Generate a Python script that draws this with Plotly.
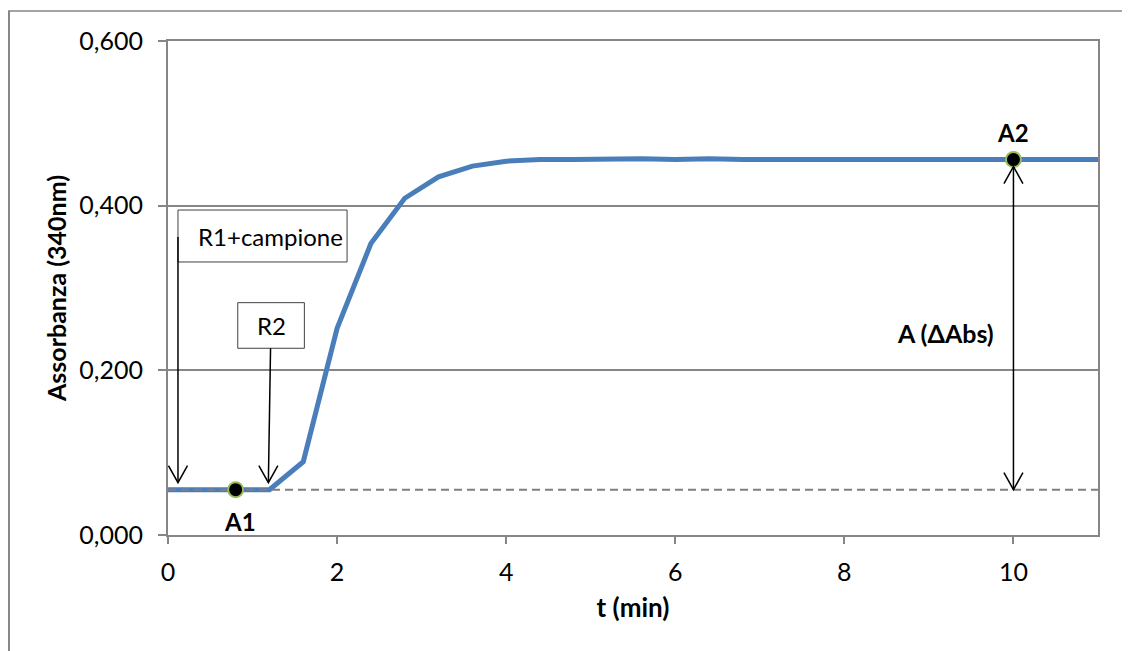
import plotly.graph_objects as go

# ---- data ----
t_min = [0.0, 0.4, 0.8, 1.2, 1.6, 2.0, 2.4, 2.8, 3.2, 3.6, 4.0, 4.4, 4.8, 5.2, 5.6,
         6.0, 6.4, 6.8, 7.2, 7.6, 8.0, 8.4, 8.8, 9.2, 9.6, 10.0, 10.4, 10.8, 11.0]
absorbance = [0.055, 0.055, 0.055, 0.055, 0.089, 0.251, 0.354, 0.409, 0.435, 0.448,
              0.454, 0.456, 0.456, 0.457, 0.457, 0.456, 0.457, 0.456, 0.456, 0.456,
              0.456, 0.456, 0.456, 0.456, 0.456, 0.456, 0.456, 0.456, 0.456]
baseline = 0.055
a1_point = (0.8, 0.055)
a2_point = (10.0, 0.456)
y_ticks = [0.0, 0.2, 0.4, 0.6]
y_tick_labels = ["0,000", "0,200", "0,400", "0,600"]
x_ticks = [0, 2, 4, 6, 8, 10]

FONT = "Lato"
GRAY = "#868686"
BLUE = "#4A7EBB"

fig = go.Figure()

fig.add_trace(go.Scatter(x=t_min, y=absorbance, mode="lines",
                         line=dict(color=BLUE, width=5), showlegend=False))
fig.add_trace(go.Scatter(x=[0, 11], y=[baseline, baseline], mode="lines",
                         line=dict(color="#7F7F7F", width=2, dash="8px,5px"),
                         showlegend=False, hoverinfo="skip"))
fig.add_trace(go.Scatter(x=[a1_point[0], a2_point[0]], y=[a1_point[1], a2_point[1]],
                         mode="markers",
                         marker=dict(color="black", size=15, line=dict(color="#9BBB59", width=2)),
                         showlegend=False))

shapes = []
# outer chart frame (left and top edges visible)
shapes.append(dict(type="line", xref="paper", yref="paper", x0=-0.171, x1=-0.171,
                   y0=1.0607, y1=-0.3, line=dict(color=GRAY, width=2)))
shapes.append(dict(type="line", xref="paper", yref="paper", x0=-0.172, x1=1.1,
                   y0=1.0607, y1=1.0607, line=dict(color=GRAY, width=1.5)))

# text boxes
shapes.append(dict(type="rect", xref="x", yref="y", x0=0.118, x1=2.118, y0=0.3316, y1=0.3947,
                   line=dict(color="#404040", width=1), fillcolor="white", layer="above"))
shapes.append(dict(type="rect", xref="x", yref="y", x0=0.825, x1=1.613, y0=0.2268, y1=0.2822,
                   line=dict(color="#404040", width=1), fillcolor="white", layer="above"))

ARW = dict(color="black", width=1.5)
# R1 arrow
shapes.append(dict(type="line", xref="x", yref="y", x0=0.118, x1=0.118, y0=0.362, y1=baseline + 0.009,
                   line=ARW, layer="above"))
shapes.append(dict(type="path", xref="x", yref="y", xsizemode="pixel", ysizemode="pixel",
                   xanchor=0.118, yanchor=baseline, path="M -9.5,24 L 0,7 L 9.5,24", line=ARW, layer="above"))
# R2 arrow
shapes.append(dict(type="line", xref="x", yref="y", x0=1.213, x1=1.187, y0=0.2268, y1=baseline + 0.009,
                   line=ARW, layer="above"))
shapes.append(dict(type="path", xref="x", yref="y", xsizemode="pixel", ysizemode="pixel",
                   xanchor=1.187, yanchor=baseline, path="M -9.5,24 L 0,7 L 9.5,24", line=ARW, layer="above"))
# double arrow A (ΔAbs)
shapes.append(dict(type="line", xref="x", yref="y", x0=a2_point[0], x1=a2_point[0],
                   y0=baseline, y1=a2_point[1] - 0.009, line=ARW, layer="above"))
shapes.append(dict(type="path", xref="x", yref="y", xsizemode="pixel", ysizemode="pixel",
                   xanchor=a2_point[0], yanchor=a2_point[1], path="M -9.5,-24 L 0,-7 L 9.5,-24",
                   line=ARW, layer="above"))
shapes.append(dict(type="path", xref="x", yref="y", xsizemode="pixel", ysizemode="pixel",
                   xanchor=a2_point[0], yanchor=baseline, path="M -9.5,17 L 0,0 L 9.5,17",
                   line=ARW, layer="above"))

annotations = [
    dict(x=1.213, y=0.362, xref="x", yref="y", text="R1+campione", showarrow=False,
         font=dict(family=FONT, size=24, color="black")),
    dict(x=1.219, y=0.255, xref="x", yref="y", text="R2", showarrow=False,
         font=dict(family=FONT, size=24, color="black")),
    dict(x=0.852, y=0.017, xref="x", yref="y", text="<b>A1</b>", showarrow=False,
         font=dict(family=FONT, size=24, color="black")),
    dict(x=10.0, y=0.489, xref="x", yref="y", text="<b>A2</b>", showarrow=False,
         font=dict(family=FONT, size=24, color="black")),
    dict(x=9.195, y=0.245, xref="x", yref="y", text="<b>A (ΔAbs)</b>", showarrow=False,
         font=dict(family=FONT, size=25, color="black")),
]

fig.update_layout(
    width=1122, height=643,
    margin=dict(l=160, r=32, t=33, b=116),
    paper_bgcolor="white", plot_bgcolor="white",
    font=dict(family=FONT, size=25, color="black"),
    shapes=shapes, annotations=annotations,
    xaxis=dict(range=[0, 11], tickvals=x_ticks, ticks="outside", ticklen=7, tickcolor=GRAY,
               tickwidth=2, showgrid=False, showline=True, linecolor=GRAY, linewidth=2,
               mirror=True, zeroline=False, ticklabelstandoff=7,
               title=dict(text="<b>t (min)</b>", font=dict(family=FONT, size=26), standoff=14)),
    yaxis=dict(range=[0, 0.6], tickvals=y_ticks, ticktext=y_tick_labels, ticks="outside",
               ticklen=8, tickcolor=GRAY, tickwidth=2, showgrid=True, gridcolor=GRAY,
               gridwidth=1.5, showline=True, linecolor=GRAY, linewidth=2, mirror=True,
               zeroline=False, ticklabelstandoff=10,
               title=dict(text="<b>Assorbanza (340nm)</b>", font=dict(family=FONT, size=25),
                          standoff=6)),
)

fig.write_html("out.html")
